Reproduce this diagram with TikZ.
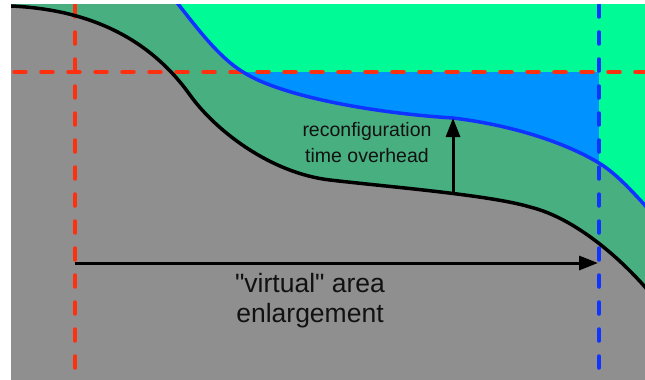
\documentclass[tikz,border=0pt]{standalone}
\usepackage{fontspec}
\setmainfont{Liberation Sans}
% plain family without TeX input ligatures, so " stays a straight quote
\newfontfamily\labelfont{Liberation Sans}
\usetikzlibrary{arrows.meta}

\definecolor{areagray}{RGB}{143,143,143}
\definecolor{overgreen}{RGB}{72,176,128}
\definecolor{freegreen}{RGB}{0,250,150}
\definecolor{gainblue}{RGB}{0,146,255}
\definecolor{curveblue}{RGB}{16,52,255}
\definecolor{markred}{RGB}{255,48,16}
\definecolor{labelink}{RGB}{17,17,17}

\tikzset{
  guide/.style={line width=3.5pt, line cap=round, dash pattern=on 12pt off 15pt},
  redguide/.style={guide, draw=markred},
  blueguide/.style={guide, draw=curveblue},
  boundary/.style={line width=3.5pt},
  measure/.style={line width=3pt, -{Triangle[length=19pt,width=14pt]}},
  smalllabel/.style={text=labelink, align=center, font=\labelfont\fontsize{19.5}{26}\selectfont},
  biglabel/.style={text=labelink, align=center, font=\labelfont\fontsize{26.5}{30}\selectfont},
}

\begin{document}
\begin{tikzpicture}[x=1pt,y=-1pt]
\useasboundingbox (0,0) rectangle (645,380);

% curve shapes
\def\blackcurve{(0,5.5) -- (11,6) .. controls (100,10) and (155,46) .. (190,95)
  .. controls (215,130) and (270,173) .. (330,180)
  .. controls (390,187) and (490,195) .. (530,207)
  .. controls (575,218) and (625,260) .. (660,305)}
\def\bluecurve{(170,-6) .. controls (190,18) and (215,55) .. (243,72)
  .. controls (280,96) and (373,113) .. (453,118)
  .. controls (503,124) and (559,139) .. (599,163)
  .. controls (619,175) and (640,200) .. (660,222)}

\begin{scope}
  \clip (11,4) rectangle (645,380);
  % free area
  \fill[freegreen] (11,4) rectangle (645,380);
  % gained area
  \fill[gainblue] (230,72) rectangle (599,260);
  % region between the two curves
  \fill[overgreen] \bluecurve -- (670,400) -- (0,400) -- (0,-10) -- cycle;
  % occupied area
  \fill[areagray] \blackcurve -- (670,400) -- (0,400) -- cycle;

  % guide lines
  \draw[redguide] (75,5) -- (75,385);
  \draw[redguide] (14,72) -- (650,72);
  \draw[blueguide] (599,5) -- (599,385);

  % boundary curves
  \draw[boundary, curveblue] \bluecurve;
  \draw[boundary, black] \blackcurve;
\end{scope}

% measurement arrows
\coordinate (hstart) at (75,263);
\coordinate (hend) at (598,263);
\coordinate (vstart) at (453,193);
\coordinate (vend) at (453,118);
\draw[measure] (hstart) -- (hend);
\draw[measure] (vstart) -- (vend);

% labels (base anchor sits on the last line)
\node[smalllabel, anchor=base] (overhead) at (367,162) {reconfiguration\\time overhead};
\node[biglabel, anchor=base] (gain) at (310,322) {"virtual" area\\enlargement};
\end{tikzpicture}
\end{document}
